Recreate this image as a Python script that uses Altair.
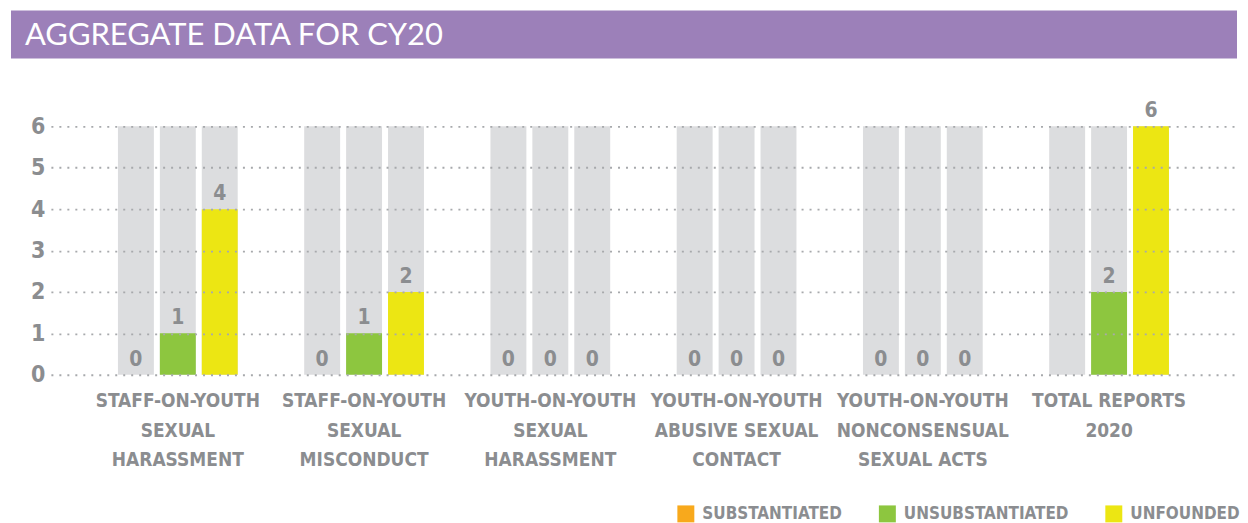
import altair as alt
import pandas as pd

title_text = ["AGGREGATE DATA FOR CY20"]
categories = [
    "STAFF-ON-YOUTH|SEXUAL|HARASSMENT",
    "STAFF-ON-YOUTH|SEXUAL|MISCONDUCT",
    "YOUTH-ON-YOUTH|SEXUAL|HARASSMENT",
    "YOUTH-ON-YOUTH|ABUSIVE SEXUAL|CONTACT",
    "YOUTH-ON-YOUTH|NONCONSENSUAL|SEXUAL ACTS",
    "TOTAL REPORTS|2020",
]
statuses = ["SUBSTANTIATED", "UNSUBSTANTIATED", "UNFOUNDED"]
substantiated = [0, 0, 0, 0, 0, 0]
unsubstantiated = [1, 1, 0, 0, 0, 2]
unfounded = [4, 2, 0, 0, 0, 6]
show_substantiated_label = [True, True, True, True, True, False]
axis_max = 6
y_ticks = [0, 1, 2, 3, 4, 5, 6]

status_colors = ["#f8a91c", "#8dc63f", "#ece613"]
GREY_TEXT = "#8b8d90"
BG_BAR = "#dcdddf"
PURPLE = "#9c80b9"
NARROW = "Liberation Sans Narrow, DejaVu Sans Condensed, sans-serif"

rows = []
for i, c in enumerate(categories):
    for s, vals in zip(statuses, [substantiated, unsubstantiated, unfounded]):
        v = vals[i]
        show = True
        if s == "SUBSTANTIATED":
            show = show_substantiated_label[i]
        rows.append({"category": c, "status": s, "value": v,
                     "label": str(v) if show else "", "full": axis_max})
df = pd.DataFrame(rows)

W = 1229

header = alt.Chart(pd.DataFrame({"t": title_text})).mark_text(
    align="left", baseline="middle", font="Lato", fontSize=31, color="white"
).encode(
    x=alt.value(14), y=alt.value(25), text="t:N"
).properties(width=W, height=48, view=alt.ViewBackground(fill=PURPLE, stroke=None))

base = alt.Chart(df).encode(
    x=alt.X("category:N", sort=categories,
            scale=alt.Scale(range=[40, W - 1], paddingInner=0.357, paddingOuter=0.36),
            axis=alt.Axis(title=None, labelExpr="split(datum.label, '|')", labelAngle=0,
                          domain=False, ticks=False, labelPadding=17, labelLineHeight=29.5,
                          labelFont=NARROW, labelFontWeight="bold", labelFontSize=19,
                          labelColor=GREY_TEXT, labelLimit=300, labelBaseline="top")),
    xOffset=alt.XOffset("status:N", sort=statuses,
                        scale=alt.Scale(paddingInner=0.143, paddingOuter=0)),
)

yscale = alt.Scale(domain=[0, axis_max], nice=False)

bg = base.mark_bar(color=BG_BAR).encode(
    y=alt.Y("full:Q", scale=yscale,
            axis=alt.Axis(values=y_ticks, title=None, domain=False, ticks=False,
                          gridDash=[2, 6], gridColor="#a7a9ac", gridWidth=1.8,
                          labelFont=NARROW, labelFontWeight="bold", labelFontSize=23,
                          labelColor=GREY_TEXT, labelPadding=-34, labelAlign="right",
                          minExtent=0, zindex=1))
)

bars = base.mark_bar().encode(
    y=alt.Y("value:Q", scale=yscale),
    color=alt.Color("status:N", scale=alt.Scale(domain=statuses, range=status_colors),
                    legend=alt.Legend(title=None, orient="none", legendX=668, legendY=496,
                                      direction="horizontal", symbolType="square",
                                      symbolSize=289, symbolStrokeWidth=0, symbolOpacity=1,
                                      labelFont=NARROW, labelFontWeight="bold",
                                      labelFontSize=17, labelColor=GREY_TEXT,
                                      labelOffset=8, columnPadding=36, labelLimit=300)),
)

labels = base.mark_text(baseline="alphabetic", dy=-9, font=NARROW, fontWeight="bold",
                        fontSize=21, color=GREY_TEXT).encode(
    y=alt.Y("value:Q", scale=yscale),
    text="label:N",
)

main = alt.layer(bg, bars, labels).properties(width=W, height=249)

chart = alt.vconcat(header, main, spacing=42).properties(
    padding={"left": 3, "top": 2, "right": 0, "bottom": 0}
).configure_view(stroke=None)

chart.save("out.html", embed_options={"renderer": "svg", "actions": False})
